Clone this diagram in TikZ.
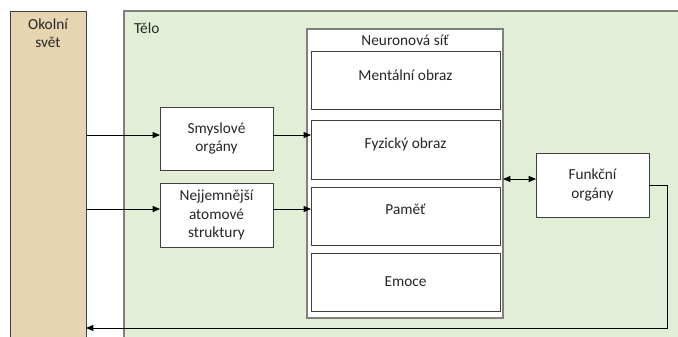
\documentclass[tikz,border=0pt]{standalone}
\usepackage{fontspec}
\setmainfont{Carlito}
\usetikzlibrary{arrows.meta}
\definecolor{tanfill}{RGB}{230,213,176}
\definecolor{bodyfill}{RGB}{226,239,214}
\definecolor{bodyline}{RGB}{128,128,128}
\definecolor{boxline}{RGB}{64,64,64}
\definecolor{txt}{RGB}{38,38,38}
\tikzset{
  box/.style={draw=boxline, fill=white, line width=0.75pt, inner sep=0pt, outer sep=0pt, anchor=north west, align=center, text=txt},
  arr/.style={line width=0.75pt, draw=black, -{Triangle[length=5.5pt,width=4.5pt]}},
  darr/.style={line width=0.75pt, draw=black, {Triangle[length=5.5pt,width=4.5pt]}-{Triangle[length=5.5pt,width=4.5pt]}}
}
\begin{document}
\begin{tikzpicture}[x=0.75pt,y=-0.75pt,font=\fontsize{11.5}{13.8}\selectfont]
\useasboundingbox (0,0) rectangle (678,336);
\clip (0,0) rectangle (678,336);
% Okolní svět
\node[box, fill=tanfill, draw=boxline, minimum width=57pt, minimum height=255pt,
  label={[anchor=north, text=txt, align=center, yshift=-2pt, font=\fontsize{11.5}{13.8}\selectfont]north:Okolní\\svět}] (okolni) at (10,11) {};
% Tělo
\node[box, fill=bodyfill, draw=bodyline, line width=1.1pt, minimum width=430pt, minimum height=260pt,
  label={[anchor=west, text=txt, xshift=4pt, yshift=-12.75pt]north west:Tělo}] (telo) at (124,11) {};
% Neuronová síť
\node[box, draw=bodyline, line width=1pt, minimum width=147pt, minimum height=216.75pt,
  label={[anchor=center, text=txt, yshift=-8.75pt]north:Neuronová síť}] (neur) at (307,29) {};
% inner boxes
\node[box, minimum width=141.75pt, minimum height=43.5pt,
  label={[text=txt, yshift=3.5pt]center:Mentální obraz}] (ment) at (311,51) {};
\node[box, minimum width=141.75pt, minimum height=44.25pt,
  label={[text=txt, yshift=4pt]center:Fyzický obraz}] (fyz) at (311,120) {};
\node[box, minimum width=141.75pt, minimum height=43.5pt,
  label={[text=txt, yshift=5pt]center:Paměť}] (pamet) at (311,187) {};
\node[box, minimum width=141.75pt, minimum height=43.5pt,
  label={[text=txt]center:Emoce}] (emoce) at (311,253) {};
% left boxes
\node[box, minimum width=84.75pt, minimum height=47.25pt] (smysl) at (160,107) {Smyslové\\orgány};
\node[box, minimum width=84.75pt, minimum height=48pt] (nejj) at (160,183) {Nejjemnější\\atomové\\struktury};
% right box
\node[box, minimum width=84.75pt, minimum height=48pt] (funk) at (536,153) {Funkční\\orgány};
% arrows
\draw[arr] ([yshift=2.6pt]okolni.east |- smysl.west) -- ([yshift=2.6pt]smysl.west);
\draw[arr] ([yshift=2.6pt]smysl.east) -- ([yshift=2.6pt]fyz.west |- smysl.east);
\draw[arr] ([yshift=4.5pt]okolni.east |- nejj.west) -- ([yshift=4.5pt]nejj.west);
\draw[arr] ([yshift=4.5pt]nejj.east) -- ([yshift=4.5pt]pamet.west |- nejj.east);
\draw[darr] ([yshift=4.5pt]neur.east |- funk.west) -- ([yshift=4.5pt]funk.west);
\coordinate (fb) at (667,328);
\draw[arr] (funk.east) -| (fb) -- (okolni.east |- fb);
\end{tikzpicture}
\end{document}
